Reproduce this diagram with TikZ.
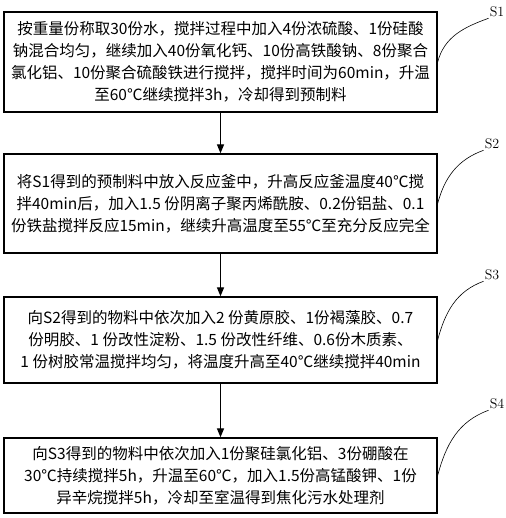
\documentclass[tikz,border=0pt]{standalone}
\usepackage{fontspec}
\newfontfamily\cjk{Noto Sans CJK SC}
\usetikzlibrary{positioning, arrows.meta}
\newcommand{\StepF}{\cjk\fontsize{15.5}{22}\selectfont}
\newcommand{\TagF}{\fontsize{14}{16}\selectfont}

\tikzset{
  stepbox/.style={draw, line width=1.3pt, minimum width=433pt, inner sep=0pt,
                  align=center, font=\StepF},
  steptag/.style={font=\TagF, inner sep=1pt},
  flow/.style={-{Triangle[length=9pt, width=7pt]}, line width=1.3pt},
  leader/.style={line width=0.6pt},
}

\begin{document}
\begin{tikzpicture}[x=1pt, y=1pt]
  \useasboundingbox (0,0) rectangle (505,518);
  % process steps
  \node[stepbox, minimum height=100pt] (s1) at (220.5,456) {%
    按重量份称取30份水，搅拌过程中加入4份浓硫酸、1份硅酸\\
    钠混合均匀，继续加入40份氧化钙、10份高铁酸钠、8份聚合\\
    氯化铝、10份聚合硫酸铁进行搅拌，搅拌时间为60min，升温\\
    至60℃继续搅拌3h，冷却得到预制料};
  \node[stepbox, minimum height=99pt] (s2) at (220.5,314.5) {%
    将S1得到的预制料中放入反应釜中，升高反应釜温度40℃搅\\
    拌40min后，加入1.5 份阴离子聚丙烯酰胺、0.2份铝盐、0.1\\
    份铁盐搅拌反应15min，继续升高温度至55℃至充分反应完全};
  \node[stepbox, minimum height=86pt] (s3) at (220.5,178) {%
    向S2得到的物料中依次加入2 份黄原胶、1份褐藻胶、0.7\\
    份明胶、1 份改性淀粉、1.5 份改性纤维、0.6份木质素、\\
    1 份树胶常温搅拌均匀，将温度升高至40℃继续搅拌40min};
  \node[stepbox, minimum height=75pt] (s4) at (220.5,42.5) {%
    向S3得到的物料中依次加入1份聚硅氯化铝、3份硼酸在\\
    30℃持续搅拌5h，升温至60℃，加入1.5份高锰酸钾、1份\\
    异辛烷搅拌5h，冷却至室温得到焦化污水处理剂};
  % step tags
  \node[steptag] (t1) at (497,506) {S1};
  \node[steptag] (t2) at (492,374) {S2};
  \node[steptag] (t3) at (492,243) {S3};
  \node[steptag] (t4) at (497,114) {S4};
  % arrows
  \draw[flow] (s1.south) -- (s2.north);
  \draw[flow] (s2.south) -- (s3.north);
  \draw[flow] (s3.south) -- (s4.north);
  % leaders
  \draw[leader] (s1.east) to[out=75, in=200] (t1.south west);
  \draw[leader] (s2.east) to[out=75, in=200] (t2.south west);
  \draw[leader] (s3.east) to[out=75, in=200] (t3.south west);
  \draw[leader] (s4.east) to[out=75, in=200] (t4.south west);
\end{tikzpicture}
\end{document}
